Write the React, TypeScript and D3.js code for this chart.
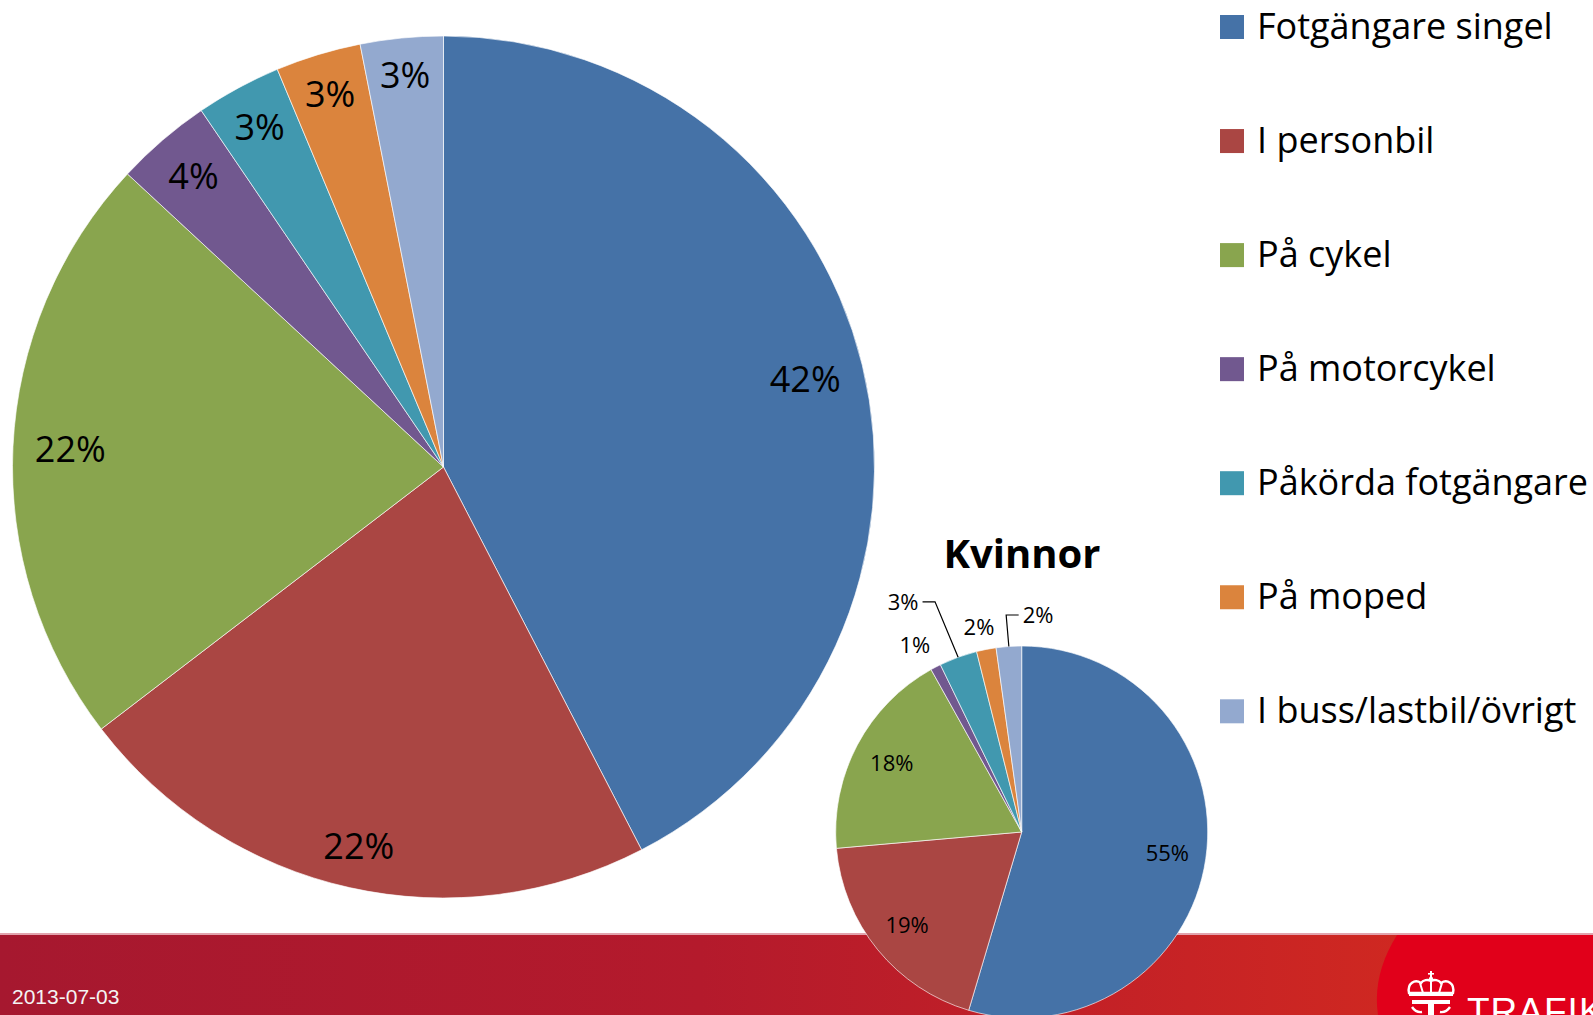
import React from "react";
import * as d3 from "d3";

const categories = [
  "Fotgängare singel",
  "I personbil",
  "På cykel",
  "På motorcykel",
  "Påkörda fotgängare",
  "På moped",
  "I buss/lastbil/övrigt",
];
const colors = ["#4572A7", "#AA4643", "#89A54E", "#71588F", "#4198AF", "#DB843D", "#93A9CF"];
const allValues = [42.4, 22.2, 22.3, 3.6, 3.2, 3.2, 3.1];
const kvinnorValues = [54.6, 19.0, 18.3, 0.9, 3.3, 1.7, 2.2];
const kvinnorTitle = "Kvinnor";
const dateText = "2013-07-03";
// outside label placement for small slices of the Kvinnor pie (angle shift in degrees, radius factor)
const kvinnorOutside: (null | { dAngle: number; rFactor: number; leader: boolean })[] = [
  null,
  null,
  null,
  { dAngle: -2.2, rFactor: 1.158, leader: false },
  { dAngle: -7.3, rFactor: 1.392, leader: true },
  { dAngle: -0.8, rFactor: 1.126, leader: false },
  { dAngle: 8.3, rFactor: 1.17, leader: true },
];

const W = 1593;
const H = 1015;
const FONT = "'Open Sans', 'Noto Sans', sans-serif";

function textWidth(t: string, fs: number) {
  let w = 0;
  for (const ch of t) w += ch === "%" ? 0.838 : 0.572;
  return w * fs;
}

function insideEnd(angle: number, w: number, h: number, Rp: number) {
  const s = Math.abs(Math.sin(angle));
  const c = Math.abs(Math.cos(angle));
  const b = s * w + c * h;
  const c0 = (w * w) / 4 + (h * h) / 4 - Rp * Rp;
  return (-b + Math.sqrt(b * b - 4 * c0)) / 2;
}

type PieProps = {
  values: number[];
  cx: number;
  cy: number;
  r: number;
  fontSize: number;
  pad: number;
  outside?: (null | { dAngle: number; rFactor: number; leader: boolean })[];
};

function Pie({ values, cx, cy, r, fontSize, pad, outside }: PieProps) {
  const pie = d3.pie<number>().sort(null).value((d) => d)(values);
  const arc = d3.arc<d3.PieArcDatum<number>>().innerRadius(0).outerRadius(r);
  const total = d3.sum(values);
  const h = fontSize * 0.72;
  return (
    <g transform={`translate(${cx},${cy})`}>
      {pie.map((p, i) => (
        <path key={i} d={arc(p) || ""} fill={colors[i]} stroke="#ffffff" strokeWidth={0.8} strokeOpacity={0.8} />
      ))}
      {pie.map((p, i) => {
        const label = `${Math.round((p.value / total) * 100)}%`;
        const mid = (p.startAngle + p.endAngle) / 2;
        const w = textWidth(label, fontSize);
        const o = outside ? outside[i] : null;
        if (!o) {
          const rr = insideEnd(mid, w, h, r - pad);
          const x = rr * Math.sin(mid);
          const y = -rr * Math.cos(mid);
          return (
            <text key={"t" + i} x={x} y={y + h / 2} textAnchor="middle" fontSize={fontSize} fontFamily={FONT} fill="#000">
              {label}
            </text>
          );
        }
        const la = mid + (o.dAngle * Math.PI) / 180;
        const lr = r * o.rFactor;
        const x = lr * Math.sin(la);
        const y = -lr * Math.cos(la);
        let leader = null;
        if (o.leader) {
          const ex = r * Math.sin(mid);
          const ey = -r * Math.cos(mid);
          const dir = ex > x ? 1 : -1;
          const sx = x + dir * (w / 2 + 4);
          const elx = sx + dir * 12.5;
          leader = (
            <polyline
              points={`${sx},${y} ${elx},${y} ${ex},${ey}`}
              fill="none"
              stroke="#000"
              strokeWidth={1.2}
            />
          );
        }
        return (
          <g key={"t" + i}>
            {leader}
            <text x={x} y={y + h / 2} textAnchor="middle" fontSize={fontSize} fontFamily={FONT} fill="#000">
              {label}
            </text>
          </g>
        );
      })}
    </g>
  );
}

function Legend() {
  const y0 = 39;
  const step = 114.05;
  return (
    <g>
      {categories.map((c, i) => (
        <g key={c} transform={`translate(1220,${y0 + i * step})`}>
          <rect x={0} y={-24} width={24} height={24} fill={colors[i]} />
          <text x={37} y={0} fontSize={36} fontFamily={FONT} fill="#000">
            {c}
          </text>
        </g>
      ))}
    </g>
  );
}

function Crown() {
  return (
    <g transform="translate(1431,971)" fill="#fff" stroke="none">
      <rect x={-1} y={0} width={2} height={6} />
      <rect x={-3} y={2} width={6} height={1.6} />
      <circle cx={0} cy={8} r={2.2} />
      <path d="M-22,22 C-24,12 -16,8 -10,12 C-8,9 -3,8 0,10 C3,8 8,9 10,12 C16,8 24,12 22,22 Z" fill="none" stroke="#fff" strokeWidth={2.4} />
      <path d="M-11,12 L-8,22 M0,10 L0,22 M11,12 L8,22" stroke="#fff" strokeWidth={2} />
      <rect x={-22} y={21} width={44} height={4} />
      <rect x={-19} y={29} width={38} height={4} />
      <rect x={-3} y={29} width={6} height={20} />
      <path d="M-19,36 q4,6 10,5 M19,36 q-4,6 -10,5" fill="none" stroke="#fff" strokeWidth={2.4} />
    </g>
  );
}

export default function App() {
  return (
    <svg
      width={W}
      height={H}
      viewBox={`0 0 ${W} ${H}`}
      style={{ position: "absolute", left: 0, top: 0, background: "#fff" }}
    >
      <defs>
        <linearGradient id="barGrad" x1="0" y1="0" x2="1400" y2="0" gradientUnits="userSpaceOnUse">
          <stop offset="0" stopColor="#A6182F" />
          <stop offset="0.5" stopColor="#B41A2C" />
          <stop offset="0.85" stopColor="#C72325" />
          <stop offset="1" stopColor="#CF2821" />
        </linearGradient>
      </defs>
      <rect x={0} y={0} width={W} height={H} fill="#fff" />
      {/* bottom bar */}
      <rect x={0} y={934} width={W} height={H - 934} fill="url(#barGrad)" />
      <path d="M1397,935 Q1372,975 1378,1015 L1593,1015 L1593,935 Z" fill="#E1001A" />
      <rect x={0} y={933} width={W} height={2} fill="#E2A3AD" />
      <text x={12} y={1004} fontSize={21} fontFamily="'Liberation Sans', Arial, sans-serif" fill="#F4F4F4">
        {dateText}
      </text>
      <Crown />
      <text x={1467} y={1024} fontSize={37} fontFamily="'Liberation Sans', Arial, sans-serif" fill="#fff" letterSpacing={1}>
        TRAFIK
      </text>

      <Pie values={allValues} cx={443.5} cy={467} r={431} fontSize={36} pad={21} />

      <text x={1022} y={568} textAnchor="middle" fontSize={40} fontWeight="bold" fontFamily={FONT} fill="#000">
        {kvinnorTitle}
      </text>
      <Pie values={kvinnorValues} cx={1021.7} cy={832} r={186} fontSize={22} pad={16} outside={kvinnorOutside} />

      <Legend />
    </svg>
  );
}
